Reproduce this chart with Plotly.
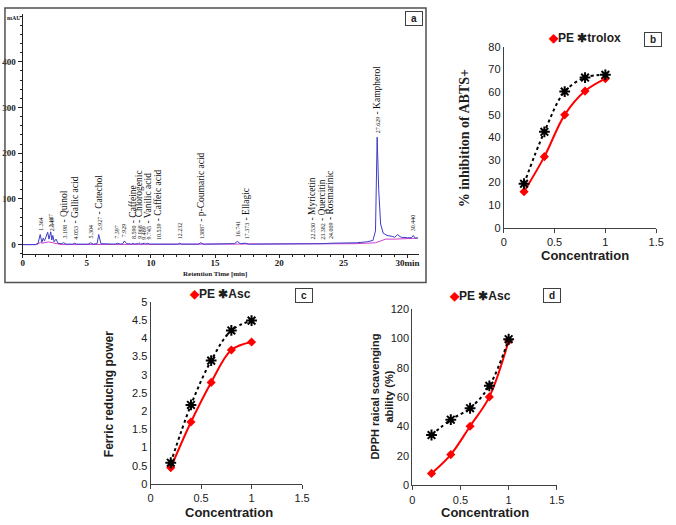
import plotly.graph_objects as go

# ---- panel a: HPLC chromatogram ----
rt = [0.0, 1.0, 1.2, 1.364, 1.5, 1.6, 1.7, 1.85, 1.95, 2.05, 2.187, 2.27, 2.349, 2.45, 2.6, 2.75,
      3.0, 3.198, 3.4, 3.9, 4.053, 4.2, 5.1, 5.304, 5.5, 5.8, 5.927, 6.1, 7.2, 7.397, 7.6, 7.8,
      7.929, 8.1, 8.5, 8.59, 8.7, 9.0, 9.068, 9.2, 9.489, 9.6, 9.745, 9.9, 10.539, 10.7, 12.1,
      12.232, 12.4, 13.7, 13.887, 14.1, 16.5, 16.741, 16.95, 17.373, 17.6, 20.0, 22.53, 23.382,
      24.009, 25.0, 26.0, 26.8, 27.3, 27.5, 27.629, 27.75, 27.9, 28.1, 28.4, 28.8, 29.0, 29.2,
      29.5, 30.0, 30.3, 30.44, 30.6, 30.8]
mau = [0, 0, 3, 22, 5, 14, 8, 20, 27, 12, 28, 10, 20, 6, 12, 3,
       2, 4, 1, 1, 3, 1, 1, 4, 1, 2, 22, 2, 1, 3, 1, 2,
       8, 2, 1, 3, 1, 2, 4, 1, 3, 1, 3, 1, 2, 1, 1,
       3, 1, 1, 4, 1, 2, 7, 2, 3, 1, 1, 2, 2,
       3, 3, 4, 6, 9, 30, 235, 120, 45, 25, 20, 18, 16, 22,
       16, 15, 15, 20, 14, 15]
base_rt = [0, 1.1, 1.4, 1.5, 2.0, 2.3, 2.6, 3.0, 26.0, 27.5, 28.3, 29.0, 30.8]
base_mau = [0, 0, 5, 3, 6, 4, 1, 0, 2, 4, 12, 12, 14]

peak_rt = [1.364, 2.187, 2.349, 3.198, 4.053, 5.304, 5.927, 7.397, 7.929, 8.590, 9.068, 9.489,
           9.745, 10.539, 12.232, 13.887, 16.741, 17.373, 22.530, 23.382, 24.009, 27.629, 30.440]
peak_num = ["1.364", "2.187", "2.349", "3.198", "4.053", "5.304", "5.927", "7.397", "7.929",
            "8.590", "9.068", "9.489", "9.745", "10.539", "12.232", "13887", "16.741", "17.373",
            "22.530", "23.382", "24.009", "27.629", "30.440"]
peak_name = ["", "", "", "Quinol", "Gallic acid", "", "Catechol", "", "", "Caffeine", "Chlorogenic",
             "", "Vanilic acid", "Caffeic acid", "", "p-Coumaric acid", "", "Ellagic", "Myricetin",
             "Quercitin", "Rosmarinic", "Kampherol", ""]
peak_h = [22, 28, 20, 4, 3, 4, 22, 3, 8, 3, 4, 3, 3, 2, 3, 4, 7, 3, 2, 2, 3, 235, 20]

# ---- panels b, c, d ----
conc = [0.2, 0.4, 0.6, 0.8, 1.0]
abts_pe = [16, 31.5, 50, 60.5, 66]
abts_trolox = [19.5, 42.5, 60.3, 66.5, 67.7]
frap_pe = [0.44, 1.70, 2.79, 3.68, 3.90]
frap_asc = [0.58, 2.17, 3.39, 4.22, 4.49]
dpph_pe = [8.2, 21, 40.3, 60.2, 98.3]
dpph_asc = [34.3, 44.7, 52.5, 67.7, 99.4]

W, H = 676, 525
SERIF = "Liberation Serif"
SANS = "Liberation Sans"


def px(x):
    return x / W


def py(y):
    return 1 - y / H


fig = go.Figure()

# chromatogram
fig.add_trace(go.Scatter(x=base_rt, y=base_mau, mode="lines", line=dict(color="#d040c8", width=1),
                         xaxis="x", yaxis="y", showlegend=False))
fig.add_trace(go.Scatter(x=rt, y=mau, mode="lines", line=dict(color="#3c3cc8", width=1),
                         xaxis="x", yaxis="y", showlegend=False))


def add_pair(xa, ya, y_pe, y_ref):
    fig.add_trace(go.Scatter(x=conc, y=y_pe, mode="lines+markers", line=dict(color="#ff0000", width=2, shape="spline"),
                             marker=dict(symbol="diamond", size=7, color="#ff0000"),
                             xaxis=xa, yaxis=ya, showlegend=False))
    fig.add_trace(go.Scatter(x=conc, y=y_ref, mode="lines+markers",
                             line=dict(color="#000000", width=2, dash="dot", shape="spline"),
                             marker=dict(symbol="asterisk", size=9, color="#000000",
                                         line=dict(color="#000000", width=2)),
                             xaxis=xa, yaxis=ya, showlegend=False))


add_pair("x2", "y2", abts_pe, abts_trolox)
add_pair("x3", "y3", frap_pe, frap_asc)
add_pair("x4", "y4", dpph_pe, dpph_asc)

tickfont_a = dict(family=SERIF, size=9, color="#202020", weight="bold")
tickfont = dict(family=SANS, size=11, color="#202020")
conc_axis = dict(range=[0, 1.5], dtick=0.5, showline=True, linecolor="#404040", linewidth=1,
                 ticks="outside", ticklen=4, tickcolor="#404040", showgrid=False, zeroline=False,
                 tickfont=tickfont)
val_axis = dict(showline=True, linecolor="#404040", linewidth=1, ticks="", showgrid=False,
                zeroline=False, tickfont=tickfont)

fig.update_layout(
    width=W, height=H, margin=dict(l=0, r=0, t=0, b=0),
    paper_bgcolor="white", plot_bgcolor="white",
    xaxis=dict(domain=[px(20), px(423)], anchor="y", range=[0, 30.9],
               tickvals=[0, 5, 10, 15, 20, 25, 30], ticktext=["0", "5", "10", "15", "20", "25", "30min"],
               showline=True, linecolor="#202020", linewidth=1, ticks="outside", ticklen=3,
               ticklabelstandoff=-3,
               tickcolor="#202020", minor=dict(dtick=1, ticks="outside", ticklen=2, tickcolor="#202020"),
               showgrid=False, zeroline=False, tickfont=tickfont_a),
    yaxis=dict(domain=[py(254), py(8)], anchor="x", range=[-21, 505], tickvals=[0, 100, 200, 300, 400],
               showline=True, linecolor="#202020", linewidth=1, ticks="outside", ticklen=4,
               tickcolor="#202020", minor=dict(dtick=20, ticks="outside", ticklen=2, tickcolor="#202020"),
               showgrid=False, zeroline=False, tickfont=tickfont_a),
    xaxis2=dict(conc_axis, domain=[px(509), px(664)], anchor="y2"),
    yaxis2=dict(val_axis, domain=[py(227), py(42)], anchor="x2", range=[0, 80], dtick=10),
    xaxis3=dict(conc_axis, domain=[px(150), px(304)], anchor="y3"),
    yaxis3=dict(val_axis, domain=[py(489), py(303)], anchor="x3", range=[0, 5], dtick=0.5),
    xaxis4=dict(conc_axis, domain=[px(416), px(563)], anchor="y4"),
    yaxis4=dict(val_axis, domain=[py(490.7), py(310)], anchor="x4", range=[0, 120], dtick=20),
)

# frame around panel a
fig.add_shape(type="rect", xref="paper", yref="paper", x0=px(2), x1=px(430), y0=py(283), y1=py(2),
              line=dict(color="#505050", width=1.5))

# peak labels
for t, num, name, h in zip(peak_rt, peak_num, peak_name, peak_h):
    txt = "<span style='font-size:6px'>%s</span>" % num
    if name:
        txt += " - " + name
    fig.add_annotation(x=t, y=h, xref="x", yref="y", text=txt, textangle=-90, showarrow=False,
                       xanchor="center", yanchor="bottom", yshift=2,
                       font=dict(family=SERIF, size=9.5, color="#101010"))

notes = [
    dict(x=px(11), y=py(12), text="<b>mAU</b>", font=dict(family=SERIF, size=6, color="#202020")),
    dict(x=px(216), y=py(274), text="<b>Retention Time [min]</b>", font=dict(family=SERIF, size=7, color="#202020")),
    dict(x=px(470), y=py(135), text="<b>% inhibition of ABTS+</b>", textangle=-90,
         font=dict(family=SERIF, size=14, color="#202020")),
    dict(x=px(108), y=py(397), text="<b>Ferric reducing power</b>", textangle=-90,
         font=dict(family=SANS, size=12, color="#202020")),
    dict(x=px(385), y=py(400), text="<b>DPPH raical scavenging<br>ability (%)</b>", textangle=-90,
         font=dict(family=SANS, size=11, color="#202020")),
    dict(x=px(592), y=py(255), text="<b>Concentration</b>", font=dict(family=SANS, size=13, color="#202020")),
    dict(x=px(230), y=py(518), text="<b>Concentration</b>", font=dict(family=SANS, size=13, color="#202020")),
    dict(x=px(490), y=py(518), text="<b>Concentration</b>", font=dict(family=SANS, size=13, color="#202020")),
    dict(x=px(591), y=py(33), text="<b><span style='color:#ff0000'>◆</span>PE ✱trolox</b>",
         font=dict(family=SANS, size=12, color="#202020")),
    dict(x=px(221), y=py(295), text="<b><span style='color:#ff0000'>◆</span>PE ✱Asc</b>",
         font=dict(family=SANS, size=12, color="#202020")),
    dict(x=px(485), y=py(297), text="<b><span style='color:#ff0000'>◆</span>PE ✱Asc</b>",
         font=dict(family=SANS, size=12, color="#202020")),
]
for n in notes:
    fig.add_annotation(xref="paper", yref="paper", showarrow=False, xanchor="center", yanchor="middle", **n)

# panel letters in small boxes
for letter, cx, cy in [("a", 417.5, 12.5), ("b", 661, 34), ("c", 306, 296), ("d", 558, 296.5)]:
    fig.add_annotation(xref="paper", yref="paper", x=px(cx), y=py(cy), text="<b>%s</b>" % letter,
                       showarrow=False, xanchor="center", yanchor="middle", width=14, height=11,
                       bordercolor="#404040", borderwidth=1, borderpad=1, bgcolor="white",
                       font=dict(family=SANS, size=10, color="#202020"))

# drop the default page margin so the figure sits at the window's top-left corner
fig.write_html("out.html", config={"displayModeBar": False},
               post_script="document.body.style.margin='0';")
